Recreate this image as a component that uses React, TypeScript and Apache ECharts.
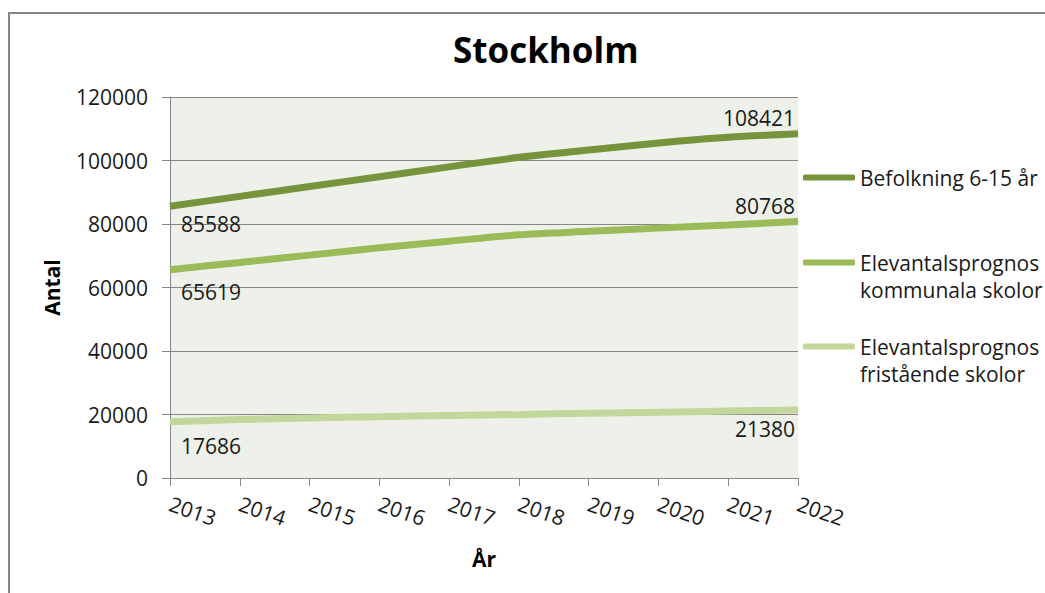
import React, { useEffect, useRef } from "react";
import * as echarts from "echarts";

const years = ["2013", "2014", "2015", "2016", "2017", "2018", "2019", "2020", "2021", "2022"];
const befolkning = [85588, 88700, 91800, 94900, 98000, 101000, 103300, 105500, 107300, 108421];
const kommunala = [65619, 67900, 70200, 72500, 74600, 76600, 77700, 78700, 79700, 80768];
const fristaende = [17686, 18400, 18900, 19300, 19700, 20000, 20400, 20700, 21100, 21380];
const seriesNames = [
  "Befolkning 6-15 år",
  "Elevantalsprognos kommunala skolor",
  "Elevantalsprognos fristående skolor",
];
const legendLines: Record<string, string> = {
  [seriesNames[0]]: "Befolkning 6-15 år",
  [seriesNames[1]]: " \nElevantalsprognos\nkommunala skolor",
  [seriesNames[2]]: " \nElevantalsprognos\nfristående skolor",
};
const colors = ["#77933c", "#9bbb59", "#c3d69b"];

const FONT = "'Open Sans', 'DejaVu Sans', sans-serif";

function labeled(values: number[], firstOffset: number[], lastPos: string, lastOffset: number[]) {
  return values.map((v, i) => {
    if (i === 0) {
      return {
        value: v,
        label: { show: true, position: "bottom", align: "left", offset: firstOffset },
      };
    }
    if (i === values.length - 1) {
      return {
        value: v,
        label: { show: true, position: lastPos, align: "right", offset: lastOffset },
      };
    }
    return v;
  });
}

export default function App() {
  const ref = useRef<HTMLDivElement>(null);
  useEffect(() => {
    if (!ref.current) return;
    const chart = echarts.init(ref.current, undefined, { renderer: "svg" });
    const lineSeries = (name: string, data: any[], color: string) => ({
      name,
      type: "line",
      data,
      smooth: 0.3,
      symbol: "circle",
      symbolSize: 1,
      itemStyle: { color },
      lineStyle: { color, width: 7, cap: "butt" },
      label: { fontFamily: FONT, fontSize: 21, color: "#1a1a1a" },
      emphasis: { disabled: true },
      z: 3,
    });
    const legendCommon = {
      left: 798,
      orient: "vertical",
      icon: "roundRect",
      itemWidth: 52,
      itemHeight: 6,
      selectedMode: false,
      formatter: (n: string) => legendLines[n] || n,
      textStyle: { fontFamily: FONT, fontSize: 21, color: "#1a1a1a", lineHeight: 27 },
    };
    chart.setOption({
      animation: false,
      backgroundColor: "#ffffff",
      title: {
        text: "Stockholm",
        left: 448,
        top: 27,
        textStyle: { fontFamily: FONT, fontSize: 35, fontWeight: "bold", color: "#000" },
      },
      graphic: [
        {
          type: "rect",
          shape: { x: 9, y: 13, width: 1200, height: 800 },
          style: { fill: "none", stroke: "#868686", lineWidth: 2 },
          silent: true,
        },
      ],
      legend: [
        { ...legendCommon, top: 159, data: [seriesNames[0]] },
        { ...legendCommon, top: 217, data: [seriesNames[1]] },
        { ...legendCommon, top: 301, data: [seriesNames[2]] },
      ],
      grid: {
        left: 170,
        right: 247,
        top: 97,
        bottom: 115,
        show: true,
        backgroundColor: "#eef1e9",
        borderWidth: 0,
      },
      xAxis: {
        type: "category",
        data: years,
        boundaryGap: false,
        name: "År",
        nameLocation: "middle",
        nameGap: 70,
        nameTextStyle: { fontFamily: FONT, fontSize: 21, fontWeight: "bold", color: "#000" },
        axisLine: { lineStyle: { color: "#868686", width: 1 } },
        axisTick: { show: true, length: 8, lineStyle: { color: "#868686" } },
        axisLabel: {
          rotate: -19,
          margin: 25,
          fontFamily: FONT,
          fontSize: 21,
          color: "#1a1a1a",
        },
        splitLine: { show: false },
      },
      yAxis: {
        type: "value",
        min: 0,
        max: 120000,
        interval: 20000,
        name: "Antal",
        nameLocation: "middle",
        nameGap: 108,
        nameRotate: 90,
        nameTextStyle: { fontFamily: FONT, fontSize: 21, fontWeight: "bold", color: "#000" },
        axisLine: { show: true, lineStyle: { color: "#868686", width: 1 } },
        axisTick: { show: true, length: 8, lineStyle: { color: "#868686" } },
        axisLabel: {
          margin: 22,
          fontFamily: FONT,
          fontSize: 21,
          color: "#1a1a1a",
          formatter: (v: number) => String(v),
        },
        splitLine: { show: true, lineStyle: { color: "#868686", width: 1 } },
      },
      series: [
        lineSeries(seriesNames[0], labeled(befolkning, [11, 2], "top", [-3, 0]), colors[0]),
        lineSeries(seriesNames[1], labeled(kommunala, [11, 6], "top", [-3, 0]), colors[1]),
        lineSeries(seriesNames[2], labeled(fristaende, [11, 8], "bottom", [-3, 3]), colors[2]),
      ],
    });
    return () => chart.dispose();
  }, []);
  return (
    <div
      ref={ref}
      style={{ position: "absolute", left: 0, top: 0, width: 1045, height: 593 }}
    />
  );
}
